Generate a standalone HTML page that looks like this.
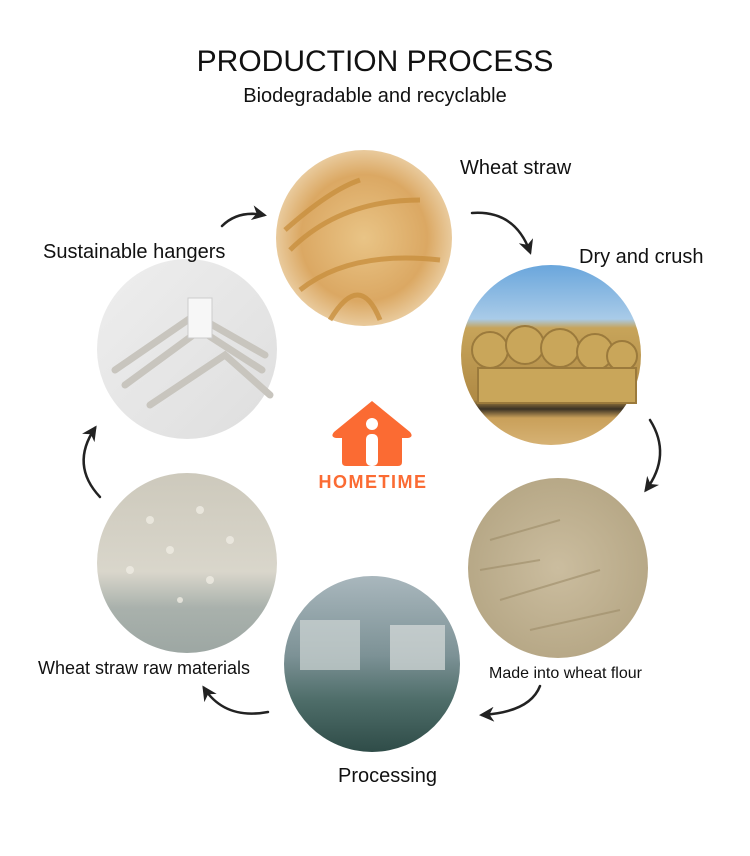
<!DOCTYPE html>
<html><head><meta charset="utf-8">
<style>
html,body{margin:0;padding:0;background:#fff;}
svg{display:block;}
text{font-family:"Liberation Sans",sans-serif;fill:#111;}
</style></head>
<body>
<svg width="750" height="856" viewBox="0 0 750 856" xmlns="http://www.w3.org/2000/svg">
<defs>
<radialGradient id="gw" cx="50%" cy="50%" r="60%"><stop offset="0" stop-color="#e9c486"/><stop offset="0.6" stop-color="#dba863"/><stop offset="1" stop-color="#f3e3c6"/></radialGradient>
<linearGradient id="gd" x1="0" y1="0" x2="0" y2="1"><stop offset="0" stop-color="#6aa6dc"/><stop offset="0.3" stop-color="#a9cbe8"/><stop offset="0.35" stop-color="#c7a45a"/><stop offset="0.75" stop-color="#b08a45"/><stop offset="0.8" stop-color="#3b3224"/><stop offset="0.85" stop-color="#c9a05a"/><stop offset="1" stop-color="#d6b274"/></linearGradient>
<radialGradient id="gf" cx="50%" cy="50%" r="60%"><stop offset="0" stop-color="#cbbd9f"/><stop offset="1" stop-color="#b3a482"/></radialGradient>
<linearGradient id="gp" x1="0" y1="0" x2="0" y2="1"><stop offset="0" stop-color="#a9b7bd"/><stop offset="0.45" stop-color="#7d9296"/><stop offset="0.7" stop-color="#4f6e6a"/><stop offset="1" stop-color="#2f4c48"/></linearGradient>
<linearGradient id="gr" x1="0" y1="0" x2="0" y2="1"><stop offset="0" stop-color="#cdc9bc"/><stop offset="0.55" stop-color="#d9d6cb"/><stop offset="0.75" stop-color="#a9b1ac"/><stop offset="1" stop-color="#9da7a3"/></linearGradient>
<linearGradient id="gh" x1="0" y1="0" x2="1" y2="1"><stop offset="0" stop-color="#eeeeee"/><stop offset="1" stop-color="#dedede"/></linearGradient>
<marker id="ah" viewBox="0 0 10 10" refX="8" refY="5" markerWidth="6" markerHeight="6" orient="auto"><path d="M0,0 L10,5 L0,10 L3,5z" fill="#222"/></marker>
</defs>

<text x="375" y="71" font-size="30" text-anchor="middle">PRODUCTION PROCESS</text>
<text x="375" y="102" font-size="20" text-anchor="middle">Biodegradable and recyclable</text>

<circle cx="364" cy="238" r="88" fill="url(#gw)"/>
<g stroke="#c9903f" stroke-width="5" fill="none" opacity="0.8">
<path d="M290,250 Q340,200 420,200"/><path d="M300,290 Q350,250 440,260"/><path d="M330,320 Q360,270 380,320"/><path d="M285,230 Q330,190 360,180"/>
</g>
<circle cx="551" cy="355" r="90" fill="url(#gd)"/>
<g fill="#c9a65a" stroke="#9b7a3c" stroke-width="2">
<circle cx="490" cy="350" r="18"/><circle cx="525" cy="345" r="19"/><circle cx="560" cy="348" r="19"/><circle cx="595" cy="352" r="18"/><circle cx="622" cy="356" r="15"/>
<rect x="478" y="368" width="158" height="35"/>
</g>
<circle cx="558" cy="568" r="90" fill="url(#gf)"/>
<g stroke="#9d8c68" stroke-width="2" opacity="0.6"><path d="M490,540 L560,520"/><path d="M500,600 L600,570"/><path d="M530,630 L620,610"/><path d="M480,570 L540,560"/></g>
<circle cx="372" cy="664" r="88" fill="url(#gp)"/>
<rect x="300" y="620" width="60" height="50" fill="#cfd6d4" opacity="0.7"/>
<rect x="390" y="625" width="55" height="45" fill="#d8dddb" opacity="0.7"/>
<circle cx="187" cy="563" r="90" fill="url(#gr)"/>
<g fill="#efece3" opacity="0.8"><circle cx="150" cy="520" r="4"/><circle cx="200" cy="510" r="4"/><circle cx="170" cy="550" r="4"/><circle cx="230" cy="540" r="4"/><circle cx="130" cy="570" r="4"/><circle cx="210" cy="580" r="4"/><circle cx="180" cy="600" r="3"/></g>
<circle cx="187" cy="349" r="90" fill="url(#gh)"/>
<g stroke="#c8c5be" stroke-width="7" fill="none" stroke-linecap="round">
<path d="M115,370 L195,315 L265,355"/><path d="M150,405 L225,355 L270,395"/><path d="M125,385 L200,330 L262,370"/>
</g>
<rect x="188" y="298" width="24" height="40" fill="#f7f7f7" stroke="#ccc"/>

<path d="M372,401 L334,432 Q330,437 336,438 L342,438 L342,462 Q342,466 346,466 L398,466 Q402,466 402,462 L402,438 L408,438 Q414,437 410,432z" fill="#fb6b33"/>
<circle cx="372" cy="424" r="6" fill="#fff"/>
<rect x="366" y="434" width="12" height="32" rx="5" fill="#fff"/>
<text x="373" y="488" font-size="18" font-weight="bold" text-anchor="middle" style="fill:#fb6b33" letter-spacing="1.5">HOMETIME</text>

<text x="460" y="174" font-size="20">Wheat straw</text>
<text x="579" y="263" font-size="20">Dry and crush</text>
<text x="43" y="258" font-size="20">Sustainable hangers</text>
<text x="489" y="678" font-size="16">Made into wheat flour</text>
<text x="38" y="674" font-size="18">Wheat straw raw materials</text>
<text x="338" y="782" font-size="20">Processing</text>

<g stroke="#222" stroke-width="2.5" fill="none" marker-end="url(#ah)" stroke-linecap="round">
<path d="M222,226 Q238,210 264,215"/>
<path d="M472,213 Q515,210 530,252"/>
<path d="M650,420 Q672,455 646,490"/>
<path d="M540,686 Q530,712 482,715"/>
<path d="M268,712 Q225,720 204,688"/>
<path d="M100,497 Q70,465 95,428"/>
</g>
</svg>
</body></html>
